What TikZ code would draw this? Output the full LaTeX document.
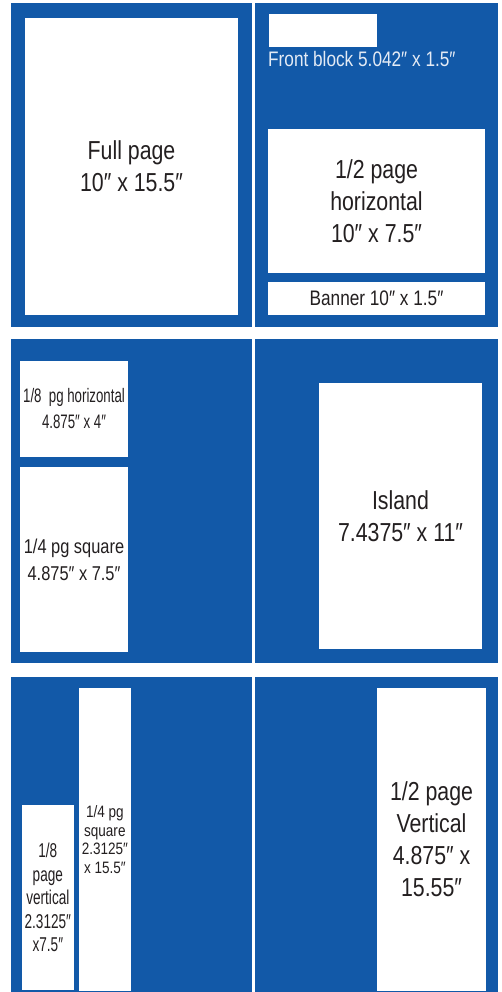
\documentclass[tikz,border=0pt]{standalone}
\usepackage{fontspec}
\setmainfont{Liberation Sans}[FakeStretch=0.82]
\newfontfamily\narrowfont{Liberation Sans}[FakeStretch=0.68]
\definecolor{adblue}{HTML}{1259A8}
\definecolor{adtext}{HTML}{231F20}
\definecolor{adlight}{HTML}{E4EBF5}
\newcommand{\fsize}[2]{\fontsize{#1}{#2}\selectfont}
\newcommand{\panel}[4]{\fill[adblue] (#1,#2) rectangle (#3,#4);}
\newcommand{\adbox}[7]{\node[adbox, minimum width = {#4pt-#2pt}, minimum height = {#5pt-#3pt}, #6] (#1) at ({(#2+#4)/2},{(#3+#5)/2}) {#7};}

\begin{document}
\begin{tikzpicture}[x = 1pt, y = -1pt,
  adbox/.style = {fill = white, text = adtext, inner sep = 0pt, align = center},
  big/.style = {font = \fsize{26}{32}}]
\useasboundingbox (0,0) rectangle (502,992);
% blue page spreads
\panel{11}{3}{251.5}{327} \panel{254.5}{3}{498}{327}
\panel{11}{339}{251.5}{663} \panel{254.5}{339}{498}{663}
\panel{11}{677}{251.5}{992} \panel{254.5}{677}{498}{992}
% first spread
\adbox{full}{25}{18}{238}{315}{big}{Full page\\10″ x 15.5″}
\adbox{front}{269}{14}{377}{47}{}{}
\node[anchor = base west, text = adlight, font = \fsize{21}{25}, inner sep = 0pt] (frontlabel) at (268,67) {Front block 5.042″ x 1.5″};
\adbox{halfh}{268}{129}{485}{273}{big}{1/2 page\\horizontal\\10″ x 7.5″}
\adbox{banner}{268}{282}{485}{315}{font = \fsize{21}{25}}{Banner 10″ x 1.5″}
% second spread
\adbox{eighth}{20}{361}{128}{457}{font = \narrowfont\fsize{19.5}{26}}{1/8\ \ pg horizontal\\4.875″ x 4″}
\adbox{quarter}{20}{467}{128}{652}{font = \fsize{20}{27}}{1/4 pg square\\4.875″ x 7.5″}
\adbox{island}{319}{383}{482}{649}{big}{Island\\7.4375″ x 11″}
% third spread
\adbox{eighthv}{22}{805}{73.7}{990}{font = \narrowfont\fsize{20}{23.5}}{1/8\\page\\vertical\\2.3125″\\x7.5″}
\adbox{quarterv}{79}{688}{130.7}{991}{font = \fsize{16.5}{18.5}}{1/4 pg\\square\\2.3125″\\x 15.5″}
\adbox{halfv}{377}{688}{486}{991}{big}{1/2 page\\Vertical\\4.875″ x\\15.55″}
\end{tikzpicture}
\end{document}
